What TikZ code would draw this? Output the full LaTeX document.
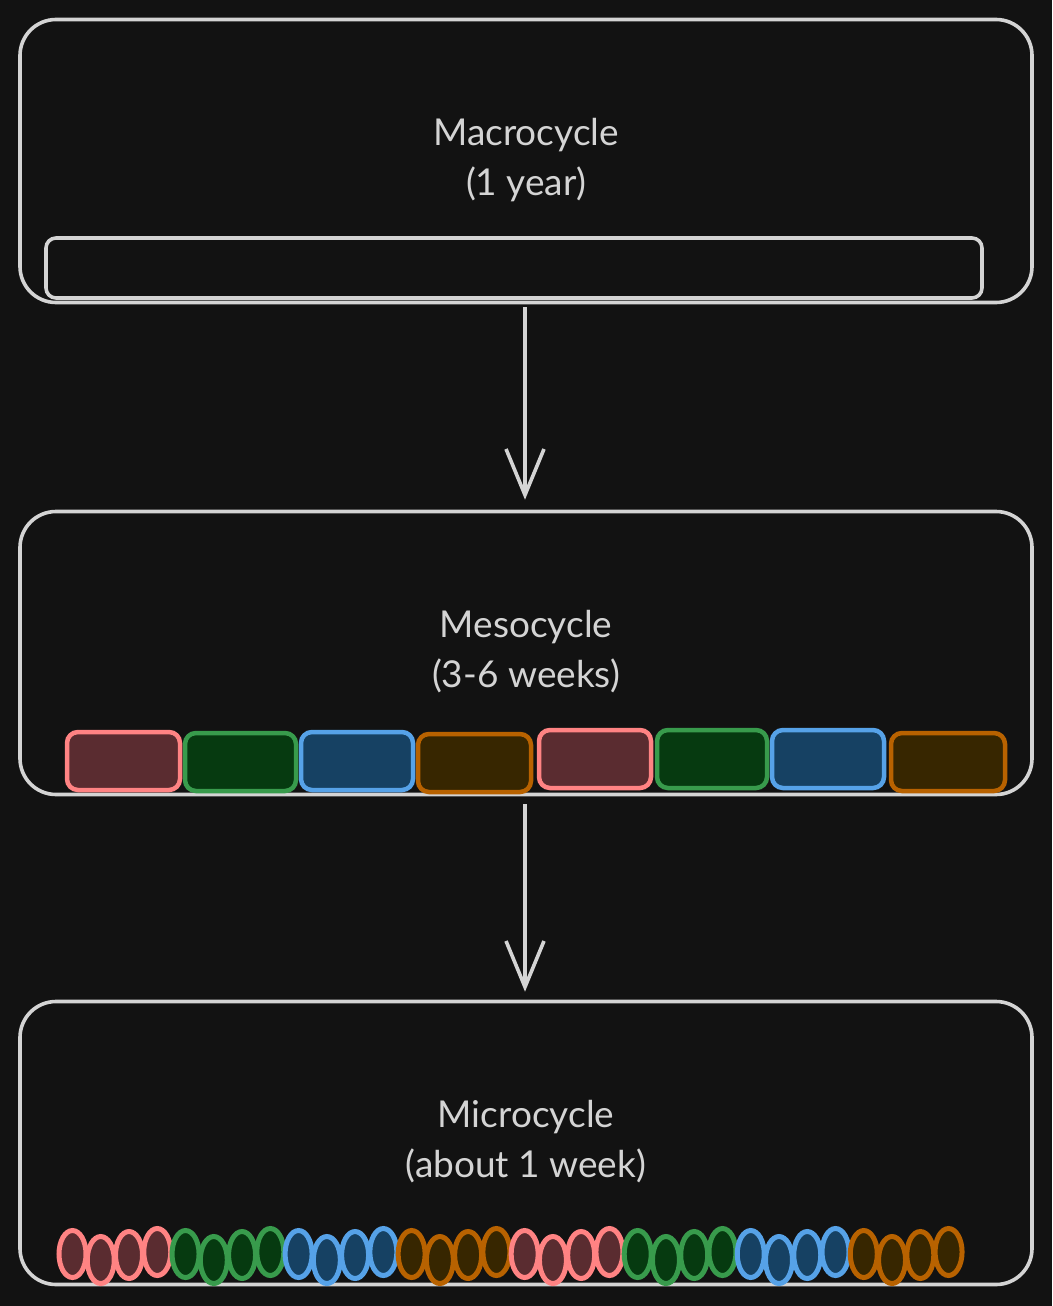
\documentclass[tikz,border=0pt]{standalone}
\usepackage{fontspec}
\setmainfont{Lato}
\usetikzlibrary{arrows.meta,shapes.geometric}
\definecolor{bg}{HTML}{121212}
\definecolor{ink}{HTML}{D4D4D4}
\definecolor{pinkS}{HTML}{FF8383}
\definecolor{pinkF}{HTML}{5A2C30}
\definecolor{greenS}{HTML}{389B4C}
\definecolor{greenF}{HTML}{063A10}
\definecolor{blueS}{HTML}{56A2E8}
\definecolor{blueF}{HTML}{164163}
\definecolor{orangeS}{HTML}{B86200}
\definecolor{orangeF}{HTML}{372600}
\tikzset{
  bigbox/.style={draw=ink, line width=3.6pt, rounded corners=36pt, inner sep=0pt},
  innerbox/.style={draw=ink, line width=3.6pt, rounded corners=10pt, inner sep=0pt},
  lbl/.style={text=ink, font=\fontsize{37}{50}\selectfont, align=center},
  flow/.style={draw=ink, line width=3.6pt, -{Straight Barb[length=46pt,width=38pt,line width=3.6pt]}},
  meso/.style={rounded corners=11pt, line width=4.5pt, inner sep=0pt, minimum height=58pt},
  micro/.style={ellipse, line width=5pt, inner sep=0pt, minimum width=27pt, minimum height=47pt},
  pk/.style={draw=pinkS, fill=pinkF},
  gr/.style={draw=greenS, fill=greenF},
  bl/.style={draw=blueS, fill=blueF},
  or/.style={draw=orangeS, fill=orangeF},
}
\begin{document}
\begin{tikzpicture}[x=1pt,y=-1pt]
\fill[bg] (0,0) rectangle (1052,1306);
\useasboundingbox (0,0) rectangle (1052,1306);
% boxes
\node[bigbox, minimum width=1012pt, minimum height=283pt] (macro) at (526,161) {};
\node[innerbox, minimum width=936pt, minimum height=60pt] (year) at (514,268) {};
\node[lbl] (macrot) at (526,160) {Macrocycle\\(1 year)};
\node[bigbox, minimum width=1012pt, minimum height=283pt] (meso) at (526,653) {};
\node[lbl] (mesot) at (526,652) {Mesocycle\\(3-6 weeks)};
\node[bigbox, minimum width=1012pt, minimum height=283pt] (micro) at (526,1143) {};
\node[lbl] (microt) at (526,1142) {Microcycle\\(about 1 week)};
% arrows
\draw[flow, shorten <=3pt, shorten >=10pt] (macro.south -| 525,0) -- (meso.north -| 525,0);
\draw[flow, shorten <=8pt, shorten >=8pt] (meso.south -| 525,0) -- (micro.north -| 525,0);
% mesocycle blocks
\node[meso,pk,minimum width=113pt] (m1) at (123.5,761) {};
\node[meso,gr,minimum width=111pt] (m2) at (240.5,762) {};
\node[meso,bl,minimum width=112pt] (m3) at (357,761) {};
\node[meso,or,minimum width=113pt] (m4) at (474.5,763) {};
\node[meso,pk,minimum width=112pt] (m5) at (595,759) {};
\node[meso,gr,minimum width=110pt] (m6) at (712,759) {};
\node[meso,bl,minimum width=112pt] (m7) at (828,759) {};
\node[meso,or,minimum width=114pt] (m8) at (948,762) {};
% microcycle ellipses
\foreach \g/\s in {0/pk,1/gr,2/bl,3/or,4/pk,5/gr,6/bl,7/or}{
  \foreach \k/\dy in {0/0,1/6,2/1,3/-2}{
    \pgfmathsetmacro{\xx}{72.5+28.26*(4*\g+\k)}
    \node[micro,\s] (e\g\k) at (\xx,1254+\dy) {};
  }
}
\end{tikzpicture}
\end{document}
